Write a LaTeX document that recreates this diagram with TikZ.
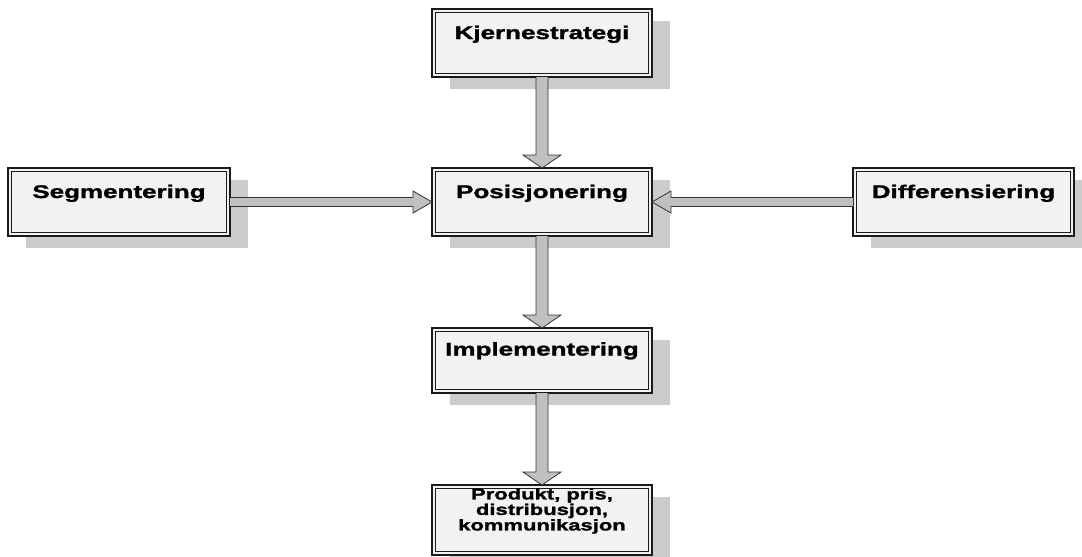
\documentclass[tikz,border=0pt]{standalone}
\usepackage{fontspec}
\usetikzlibrary{shadows,calc}
\newfontfamily\boxfont[FakeStretch=1.42, FakeBold=1.6]{Liberation Sans Bold}
\definecolor{boxfill}{HTML}{F2F2F2}
\definecolor{shadowgray}{HTML}{CCCCCC}
\definecolor{arrowfill}{HTML}{C0C0C0}
\definecolor{edge}{HTML}{1A1A1A}
\definecolor{arrowedge}{HTML}{333333}
\tikzset{
  box/.style={draw=edge, line width=1.6pt, fill=boxfill, inner sep=0pt, outer sep=0pt,
    minimum width=220pt,
    drop shadow={shadow xshift=18pt, shadow yshift=-12pt, fill=shadowgray, opacity=1},
    path picture={\draw[edge, line width=0.9pt]
      ([shift={(3.4pt,-3.4pt)}]path picture bounding box.north west) rectangle
      ([shift={(-3.4pt,3.4pt)}]path picture bounding box.south east);}},
  lbl/.style={font=\boxfont\fontsize{18.3}{19}\selectfont, inner sep=0pt, anchor=base},
  smalllbl/.style={font=\boxfont\fontsize{15.5}{15.5}\selectfont, inner sep=0pt,
    anchor=north, align=center},
  arrowbody/.style={fill=arrowfill},
  arrowline/.style={draw=arrowedge, line width=0.8pt, line join=miter}
}
% vertical block arrow: from #1.south down to #2.north
\newcommand\blkdown[2]{%
  \fill[arrowbody] ($(#1.south)+(-6,0)$) -- ($(#2.north)+(-6,-13)$) -- ($(#2.north)+(-19,-13)$)
    -- (#2.north) -- ($(#2.north)+(19,-13)$) -- ($(#2.north)+(6,-13)$) -- ($(#1.south)+(6,0)$) -- cycle;
  \draw[arrowline] ($(#1.south)+(-6,0)$) -- ($(#2.north)+(-6,-13)$) -- ($(#2.north)+(-19,-13)$)
    -- (#2.north) -- ($(#2.north)+(19,-13)$) -- ($(#2.north)+(6,-13)$) -- ($(#1.south)+(6,0)$);
}
% horizontal block arrow pointing right: from #1.east to #2.west
\newcommand\blkright[2]{%
  \fill[arrowbody] ($(#1.east)+(0,-4.5)$) -- ($(#2.west)+(-19,-4.5)$) -- ($(#2.west)+(-19,-11)$)
    -- (#2.west) -- ($(#2.west)+(-19,11)$) -- ($(#2.west)+(-19,4.5)$) -- ($(#1.east)+(0,4.5)$) -- cycle;
  \draw[arrowline] ($(#1.east)+(0,-4.5)$) -- ($(#2.west)+(-19,-4.5)$) -- ($(#2.west)+(-19,-11)$)
    -- (#2.west) -- ($(#2.west)+(-19,11)$) -- ($(#2.west)+(-19,4.5)$) -- ($(#1.east)+(0,4.5)$);
}
% horizontal block arrow pointing left: from #1.west to #2.east
\newcommand\blkleft[2]{%
  \fill[arrowbody] ($(#1.west)+(0,-4.5)$) -- ($(#2.east)+(19,-4.5)$) -- ($(#2.east)+(19,-11)$)
    -- (#2.east) -- ($(#2.east)+(19,11)$) -- ($(#2.east)+(19,4.5)$) -- ($(#1.west)+(0,4.5)$) -- cycle;
  \draw[arrowline] ($(#1.west)+(0,-4.5)$) -- ($(#2.east)+(19,-4.5)$) -- ($(#2.east)+(19,-11)$)
    -- (#2.east) -- ($(#2.east)+(19,11)$) -- ($(#2.east)+(19,4.5)$) -- ($(#1.west)+(0,4.5)$);
}
\begin{document}
\begin{tikzpicture}[x=1pt,y=-1pt]
  \path[use as bounding box, fill=white] (0,0) rectangle (1082,557);

  \node[box, minimum height=68pt] (kj) at (542,43) {};
  \node[box, minimum height=68pt] (pos) at (542,202) {};
  \node[box, minimum height=68pt, minimum width=222pt] (seg) at (119,202) {};
  \node[box, minimum height=68pt, minimum width=221pt] (dif) at (963.5,202) {};
  \node[box, minimum height=65pt] (imp) at (542,360.5) {};
  \node[box, minimum height=70pt] (prod) at (542,520) {};

  \node[lbl] (kjt) at ($(kj.north)+(0,30)$) {Kjernestrategi};
  \node[lbl] (post) at ($(pos.north)+(0,30)$) {Posisjonering};
  \node[lbl] (segt) at ($(seg.north)+(0,30)$) {Segmentering};
  \node[lbl] (dift) at ($(dif.north)+(0,30)$) {Differensiering};
  \node[lbl] (impt) at ($(imp.north)+(0,27.5)$) {Implementering};
  \node[smalllbl] (prodt) at ($(prod.north)+(0,3)$) {Produkt, pris,\\distribusjon,\\kommunikasjon};

  \blkdown{kj}{pos}
  \blkdown{pos}{imp}
  \blkdown{imp}{prod}
  \blkright{seg}{pos}
  \blkleft{dif}{pos}
\end{tikzpicture}
\end{document}
